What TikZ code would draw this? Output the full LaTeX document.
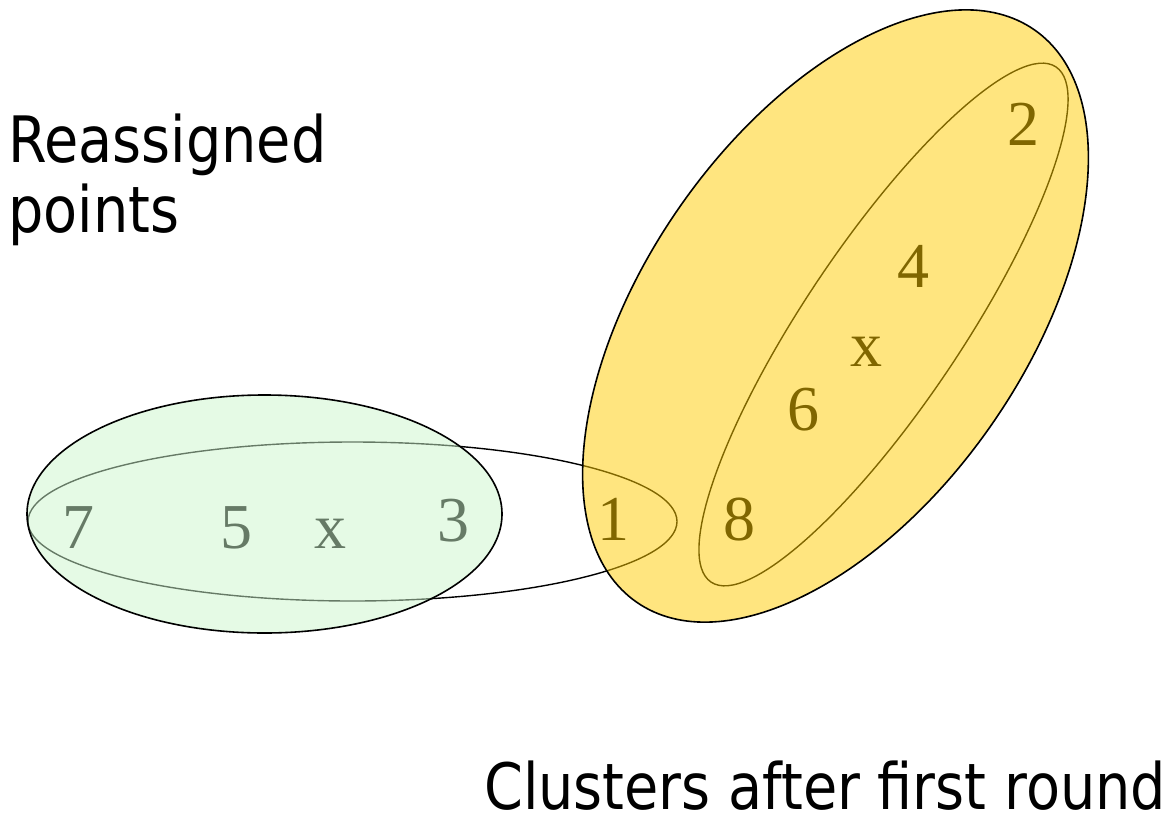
\documentclass[tikz,border=0pt]{standalone}
\usepackage{fontspec}
\newfontfamily\numfont{Liberation Serif}
\newfontfamily\labelfont[FakeStretch=0.87]{DejaVu Sans}
\definecolor{clustyellow}{HTML}{FFCC00}
\definecolor{clustgreen}{HTML}{CCF5CC}

\begin{document}
\begin{tikzpicture}[x=1pt, y=-1pt,
    every node/.style = {inner sep=0pt},
    num/.style = {anchor=base, font=\numfont\fontsize{64}{70}\selectfont},
    caption/.style = {anchor=base west, align=left,
      font=\labelfont\fontsize{64}{70}\selectfont},
    ring/.style = {draw, line width=1.4pt},
    cluster/.style = {draw, line width=1.6pt, fill opacity=0.5}]
  \useasboundingbox (0,0) rectangle (1170,814);
  % outlines of the first round
  \draw[ring] (352.5,521.5) ellipse [x radius=324.5, y radius=79.5];
  \draw[ring, rotate around={56.2:(883.5,324.5)}]
    (883.5,324.5) ellipse [x radius=310, y radius=79];
  % points and centroids
  \node[num] (p7) at (78,548)  {7};
  \node[num] (p5) at (236,548) {5};
  \node[num] (c1) at (330,548) {x};
  \node[num] (p3) at (453,541) {3};
  \node[num] (p1) at (613,540) {1};
  \node[num] (p8) at (739,540) {8};
  \node[num] (p6) at (803,430) {6};
  \node[num] (c2) at (866,366) {x};
  \node[num] (p4) at (913,287) {4};
  \node[num] (p2) at (1023,145) {2};
  % reassigned clusters
  \draw[cluster, fill=clustgreen] (264.5,514) ellipse [x radius=237.5, y radius=119];
  \draw[cluster, fill=clustyellow, rotate around={55.2:(835.5,316)}]
    (835.5,316) ellipse [x radius=348.5, y radius=190.2];
  \node[caption] (reassigned) at (8,232) {Reassigned\\points};
  \node[caption, text depth=0pt] (firstround) at (484,809) {Clusters after first round};
\end{tikzpicture}
\end{document}
